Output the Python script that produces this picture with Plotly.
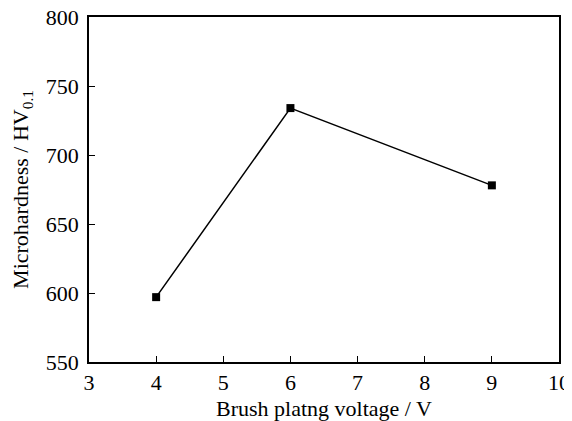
import plotly.graph_objects as go

voltage = [4, 6, 9]
microhardness = [597, 734, 678]

x_ticks = [3, 4, 5, 6, 7, 8, 9, 10]
y_ticks = [550, 600, 650, 700, 750, 800]

font = "Liberation Serif, Times New Roman, serif"

fig = go.Figure()
fig.add_trace(go.Scatter(
    x=voltage, y=microhardness, mode="lines+markers",
    line=dict(color="black", width=1.5),
    marker=dict(symbol="square", size=8, color="black"),
    showlegend=False,
))

# page body adds an 8px margin, so the figure is sized to fit the window
fig.update_layout(
    width=564, height=413,
    margin=dict(l=81, r=13, t=9, b=59, autoexpand=False),
    paper_bgcolor="white", plot_bgcolor="white",
    font=dict(family=font, size=22, color="black"),
)
fig.update_xaxes(
    range=[3, 10], tickvals=x_ticks, ticktext=[str(v) for v in x_ticks],
    showgrid=False, zeroline=False, automargin=False,
    showline=True, linecolor="black", linewidth=1.5, mirror=True,
    ticks="inside", ticklen=6, tickwidth=1, tickcolor="black",
    ticklabeloverflow="allow",
    title=dict(text="Brush platng voltage / V", standoff=8, font=dict(size=22)),
)
fig.update_yaxes(
    range=[550, 800], tickvals=y_ticks, ticktext=[str(v) for v in y_ticks],
    showgrid=False, zeroline=False, automargin=False,
    showline=True, linecolor="black", linewidth=1.5, mirror=True,
    ticks="inside", ticklen=6, tickwidth=1, tickcolor="black",
    ticklabelstandoff=4, ticklabeloverflow="allow",
    title=dict(text="Microhardness / HV<sub>0.1</sub>", standoff=14, font=dict(size=22)),
)

fig.write_html("out.html")
